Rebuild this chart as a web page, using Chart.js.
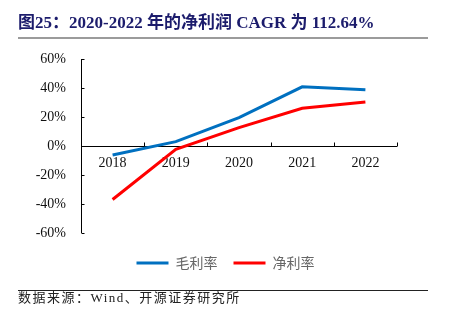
<!DOCTYPE html>
<html>
<head>
<meta charset="utf-8">
<script src="https://cdn.jsdelivr.net/npm/chart.js@4/dist/chart.umd.min.js"></script>
<style>
  html, body { margin: 0; padding: 0; background: #fff; }
  #wrap { position: relative; width: 451px; height: 323px; overflow: hidden; }
  #c { position: absolute; left: 0; top: 0; }
  .title { position: absolute; left: 18px; top: 13px; line-height: 20px; font-size: 17px; font-weight: bold;
           font-family: "Liberation Serif", "Noto Sans CJK SC", serif; color: #1c1c6c; white-space: nowrap; }
  .tline { position: absolute; left: 18px; top: 37px; width: 410px; height: 2px; background: #9b9b9b; }
  .fline { position: absolute; left: 18px; top: 290px; width: 410px; height: 1px; background: #222; }
  .src { position: absolute; left: 18px; top: 290px; line-height: 16px; font-size: 13px; letter-spacing: 1.5px;
         font-family: "Liberation Serif", "Noto Sans CJK SC", serif; color: #222; white-space: nowrap; }
</style>
</head>
<body>
<div id="wrap">
  <canvas id="c" width="451" height="323"></canvas>
  <div class="title">图25：2020-2022 年的净利润 CAGR 为 112.64%</div>
  <div class="tline"></div>
  <div class="fline"></div>
  <div class="src">数据来源：Wind、开源证券研究所</div>
</div>
<script>
const years = ['2018', '2019', '2020', '2021', '2022'];
const grossMargin = [-6.2, 3.0, 19.6, 40.8, 38.8];   // 毛利率 (%)
const netMargin = [-36.9, -2.3, 12.7, 26.0, 30.4];   // 净利率 (%)
const seriesNames = ['毛利率', '净利率'];
const seriesColors = ['#0070C0', '#FF0000'];
const yMin = -60, yMax = 60, yStep = 20;

const axesPlugin = {
  id: 'axesPlugin',
  beforeDatasetsDraw(chart) {
    const {ctx, chartArea, scales} = chart;
    const x = scales.x, y = scales.y;
    const y0 = Math.round(y.getPixelForValue(0)) + 0.5;
    const xl = Math.round(chartArea.left) + 0.5;
    ctx.save();
    ctx.strokeStyle = '#000';
    ctx.lineWidth = 1;
    ctx.beginPath();
    ctx.moveTo(xl, chartArea.top);
    ctx.lineTo(xl, chartArea.bottom);
    y.ticks.forEach(t => {
      const py = Math.round(y.getPixelForValue(t.value)) + 0.5;
      ctx.moveTo(xl, py);
      ctx.lineTo(xl + 3, py);
    });
    ctx.moveTo(chartArea.left, y0);
    ctx.lineTo(chartArea.right, y0);
    for (let i = 1; i <= years.length; i++) {
      const bx = i < years.length ? (x.getPixelForValue(i - 1) + x.getPixelForValue(i)) / 2 : chartArea.right;
      const px = Math.round(bx) + 0.5;
      ctx.moveTo(px, y0);
      ctx.lineTo(px, y0 - 4);
    }
    ctx.stroke();
    ctx.restore();
  }
};

new Chart(document.getElementById('c'), {
  type: 'line',
  data: {
    labels: years,
    datasets: [
      { label: seriesNames[0], data: grossMargin, borderColor: seriesColors[0], backgroundColor: seriesColors[0],
        borderWidth: 3, pointRadius: 0, tension: 0 },
      { label: seriesNames[1], data: netMargin, borderColor: seriesColors[1], backgroundColor: seriesColors[1],
        borderWidth: 3, pointRadius: 0, tension: 0 }
    ]
  },
  options: {
    responsive: false,
    devicePixelRatio: 1,
    animation: false,
    layout: { padding: { top: 59, bottom: 43, left: 0, right: 0 } },
    plugins: {
      tooltip: { enabled: false },
      legend: {
        position: 'bottom',
        title: { display: true, text: '', font: { size: 7, lineHeight: 1 }, padding: 0 },
        labels: {
          boxWidth: 32, boxHeight: 3, padding: 16,
          color: '#222',
          font: { family: '"Noto Sans CJK SC", sans-serif', size: 14 },
          generateLabels(chart) {
            return chart.data.datasets.map((ds, i) => ({
              text: ds.label, fillStyle: ds.borderColor, strokeStyle: ds.borderColor,
              lineWidth: 0, hidden: false, datasetIndex: i
            }));
          }
        }
      }
    },
    scales: {
      x: {
        type: 'category',
        offset: true,
        position: { y: 0 },
        grid: { display: false, drawTicks: false },
        border: { display: false },
        ticks: { color: '#111', padding: 9, maxRotation: 0,
                 font: { family: '"Liberation Serif", serif', size: 14 } }
      },
      y: {
        position: 'left',
        min: yMin, max: yMax,
        grid: { display: false, drawTicks: false },
        border: { display: false },
        afterFit(s) { s.width = 81; },
        ticks: { stepSize: yStep, color: '#111', padding: 15,
                 font: { family: '"Liberation Serif", serif', size: 14 },
                 callback: v => v + '%' }
      },
      y2: {
        position: 'right',
        display: true,
        min: yMin, max: yMax,
        grid: { display: false, drawTicks: false },
        border: { display: false },
        ticks: { display: false },
        afterFit(s) { s.width = 54; }
      }
    }
  },
  plugins: [axesPlugin]
});
</script>
</body>
</html>
